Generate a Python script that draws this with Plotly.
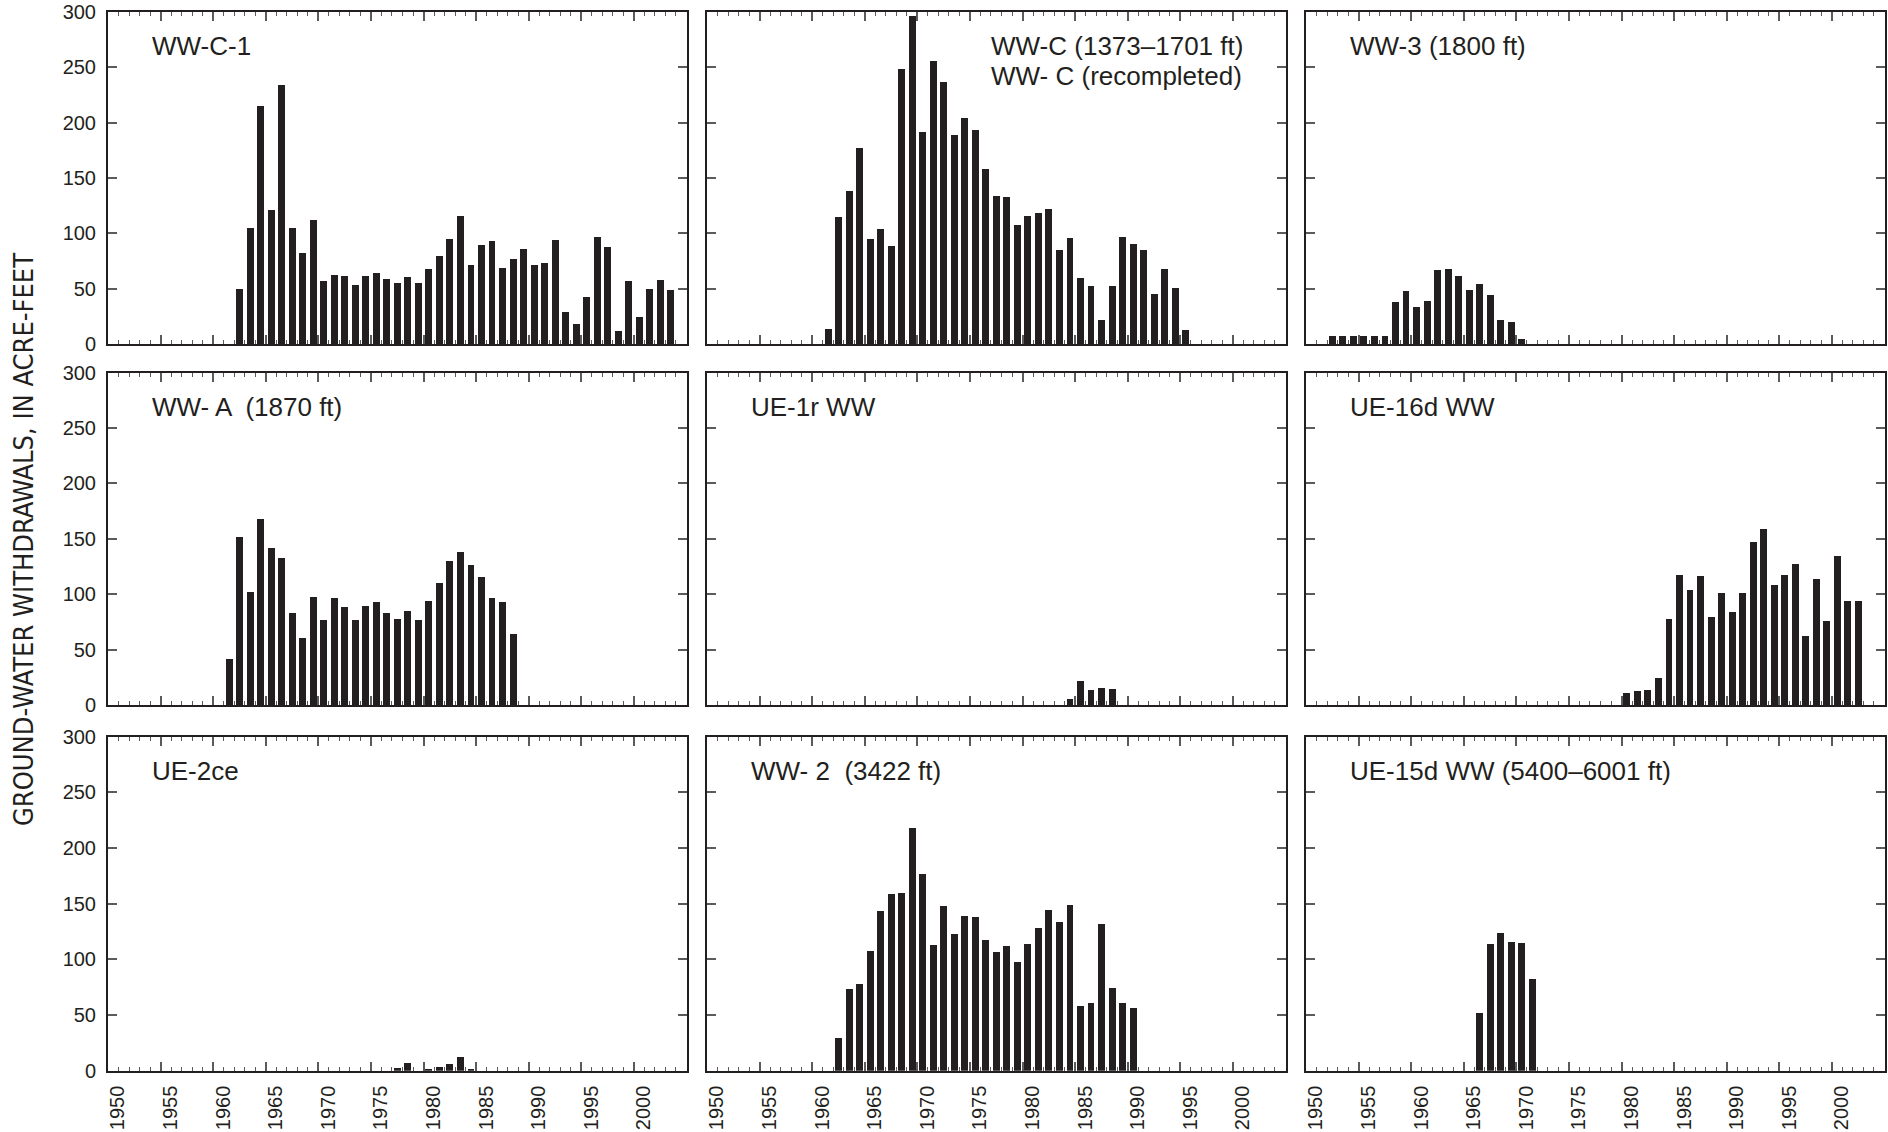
import plotly.graph_objects as go

# Annual ground-water withdrawals (acre-feet) for nine supply wells

WWC1_YEARS = [1962, 1963, 1964, 1965, 1966, 1967, 1968, 1969, 1970, 1971, 1972, 1973, 1974, 1975,
              1976, 1977, 1978, 1979, 1980, 1981, 1982, 1983, 1984, 1985, 1986, 1987, 1988, 1989,
              1990, 1991, 1992, 1993, 1994, 1995, 1996, 1997, 1998, 1999, 2000, 2001, 2002, 2003]
WWC1_VALUES = [50, 105, 215, 121, 234, 105, 83, 112, 57, 63, 62, 54, 62, 65,
               59, 56, 61, 56, 68, 80, 95, 116, 72, 90, 93, 69, 77, 86,
               72, 74, 94, 29, 19, 43, 97, 88, 12, 57, 25, 50, 58, 49]

WWC_YEARS = [1961, 1962, 1963, 1964, 1965, 1966, 1967, 1968, 1969, 1970, 1971, 1972, 1973, 1974,
             1975, 1976, 1977, 1978, 1979, 1980, 1981, 1982, 1983, 1984, 1985, 1986, 1987, 1988,
             1989, 1990, 1991, 1992, 1993, 1994, 1995]
WWC_VALUES = [14, 115, 139, 177, 95, 104, 89, 249, 296, 192, 256, 237, 189, 204,
              194, 158, 134, 133, 108, 116, 119, 122, 85, 96, 60, 53, 22, 53,
              97, 91, 85, 46, 68, 51, 13]

WW3_YEARS = [1952, 1953, 1954, 1955, 1956, 1957, 1958, 1959, 1960, 1961, 1962, 1963, 1964,
             1965, 1966, 1967, 1968, 1969, 1970]
WW3_VALUES = [8, 8, 8, 8, 8, 8, 38, 48, 34, 39, 67, 68, 62, 49, 55, 45, 22, 20, 5]

WWA_YEARS = [1961, 1962, 1963, 1964, 1965, 1966, 1967, 1968, 1969, 1970, 1971, 1972, 1973, 1974,
             1975, 1976, 1977, 1978, 1979, 1980, 1981, 1982, 1983, 1984, 1985, 1986, 1987, 1988]
WWA_VALUES = [42, 152, 102, 168, 142, 133, 83, 61, 98, 77, 97, 89, 77, 90,
              93, 83, 78, 85, 77, 94, 110, 130, 138, 127, 116, 97, 93, 64]

UE1R_YEARS = [1984, 1985, 1986, 1987, 1988]
UE1R_VALUES = [6, 22, 14, 16, 15]

UE16D_YEARS = [1980, 1981, 1982, 1983, 1984, 1985, 1986, 1987, 1988, 1989, 1990, 1991,
               1992, 1993, 1994, 1995, 1996, 1997, 1998, 1999, 2000, 2001, 2002]
UE16D_VALUES = [11, 13, 14, 25, 78, 118, 104, 117, 80, 101, 84, 101,
                147, 159, 109, 118, 128, 63, 114, 76, 135, 94, 94]

UE2CE_YEARS = [1977, 1978, 1980, 1981, 1982, 1983, 1984]
UE2CE_VALUES = [3, 7, 1.5, 4, 6, 13, 2]

WW2_YEARS = [1962, 1963, 1964, 1965, 1966, 1967, 1968, 1969, 1970, 1971, 1972, 1973, 1974, 1975,
             1976, 1977, 1978, 1979, 1980, 1981, 1982, 1983, 1984, 1985, 1986, 1987, 1988, 1989, 1990]
WW2_VALUES = [30, 74, 78, 108, 144, 159, 160, 218, 177, 113, 148, 123, 139, 138,
              118, 107, 112, 98, 114, 128, 145, 134, 149, 58, 61, 132, 75, 61, 57]

UE15D_YEARS = [1966, 1967, 1968, 1969, 1970, 1971]
UE15D_VALUES = [52, 114, 124, 116, 115, 83]

PANEL_TITLES = [
    ["WW-C-1"],
    ["WW-C (1373\u20131701 ft)", "WW- C (recompleted)"],
    ["WW-3 (1800 ft)"],
    ["WW- A  (1870 ft)"],
    ["UE-1r WW"],
    ["UE-16d WW"],
    ["UE-2ce"],
    ["WW- 2  (3422 ft)"],
    ["UE-15d WW (5400\u20136001 ft)"],
]

PANELS = [
    (WWC1_YEARS, WWC1_VALUES), (WWC_YEARS, WWC_VALUES), (WW3_YEARS, WW3_VALUES),
    (WWA_YEARS, WWA_VALUES), (UE1R_YEARS, UE1R_VALUES), (UE16D_YEARS, UE16D_VALUES),
    (UE2CE_YEARS, UE2CE_VALUES), (WW2_YEARS, WW2_VALUES), (UE15D_YEARS, UE15D_VALUES),
]

Y_TICKS = [0, 50, 100, 150, 200, 250, 300]
X_TICKS = [1950, 1955, 1960, 1965, 1970, 1975, 1980, 1985, 1990, 1995, 2000]
Y_TITLE = "GROUND-WATER WITHDRAWALS, IN ACRE-FEET"

W, H = 1888, 1132
INK = "#231f20"
TICK = "#5a5b5d"
FONT = "Liberation Sans, Arial, Helvetica, sans-serif"

# panel frames in pixels
COLS = [(108, 687), (707, 1286), (1306, 1885)]
ROWS = [(11.7, 344.3), (372.7, 705.0), (736.7, 1070.7)]

fig = go.Figure()
layout = dict(
    width=W, height=H, autosize=False,
    margin=dict(l=0, r=0, t=0, b=0),
    paper_bgcolor="white", plot_bgcolor="white",
    showlegend=False, bargap=0,
    font=dict(family=FONT, color=INK, size=20),
)
annotations = []

for i, (years, vals) in enumerate(PANELS):
    r, c = divmod(i, 3)
    n = "" if i == 0 else str(i + 1)
    x0, x1 = COLS[c]
    y0, y1 = ROWS[r]
    fig.add_trace(go.Bar(
        x=years, y=vals, xaxis="x" + n, yaxis="y" + n,
        width=0.66, offset=0.18,
        marker=dict(color=INK, line=dict(width=0)),
    ))
    layout["xaxis" + n] = dict(
        domain=[x0 / W, x1 / W], anchor="y" + n, automargin=False,
        range=[1950, 2005.05], showgrid=False, zeroline=False,
        showline=True, linecolor=INK, linewidth=2, mirror="ticks",
        tickmode="array", tickvals=X_TICKS,
        ticks="inside", ticklen=9, tickwidth=1.5, tickcolor=TICK,
        minor=dict(dtick=1, tick0=1950, ticks="inside", ticklen=4,
                   tickwidth=1, tickcolor=TICK, showgrid=False),
        showticklabels=(r == 2), tickangle=-90,
        ticklabelshift=10, ticklabelstandoff=5,
        tickfont=dict(family=FONT, size=20, color=INK),
    )
    layout["yaxis" + n] = dict(
        domain=[1 - y1 / H, 1 - y0 / H], anchor="x" + n, automargin=False,
        range=[0, 300], showgrid=False, zeroline=False,
        showline=True, linecolor=INK, linewidth=2, mirror="ticks",
        tickmode="array", tickvals=Y_TICKS,
        ticks="inside", ticklen=9, tickwidth=1.5, tickcolor=TICK,
        showticklabels=(c == 0), ticklabelstandoff=6,
        tickfont=dict(family=FONT, size=20, color=INK),
    )
    title = PANEL_TITLES[i]
    left = 282 if len(title) > 1 else 42
    for k, line in enumerate(title):
        annotations.append(dict(
            text=line, showarrow=False,
            xref="x" + n + " domain", yref="y" + n + " domain",
            x=left / (x1 - x0), xanchor="left",
            y=1 - (34 + 30 * k) / (y1 - y0), yanchor="middle",
            font=dict(family=FONT, size=26, color=INK),
        ))

annotations.append(dict(
    text=Y_TITLE, showarrow=False, textangle=-90,
    xref="paper", yref="paper", x=23 / W, y=1 - 540 / H,
    xanchor="center", yanchor="middle",
    font=dict(family="Liberation Sans Narrow, Arial Narrow, DejaVu Sans Condensed, sans-serif",
              size=27, color=INK),
))

layout["annotations"] = annotations
fig.update_layout(**layout)
fig.write_html("out.html")
